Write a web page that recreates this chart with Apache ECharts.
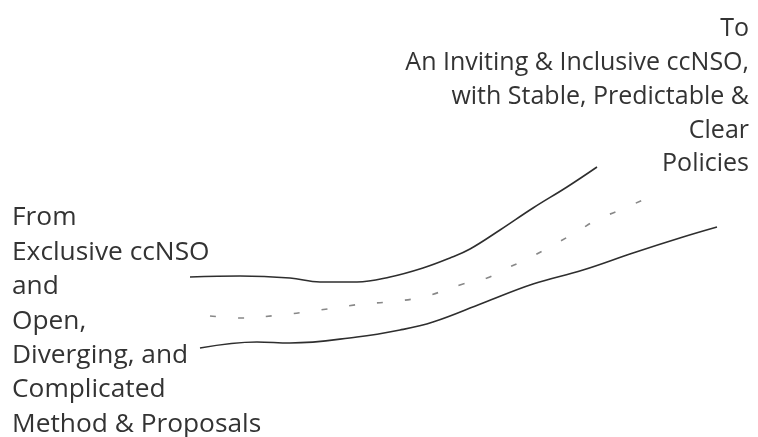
<!DOCTYPE html>
<html>
<head>
<meta charset="utf-8">
<script src="https://cdn.jsdelivr.net/npm/echarts@6/dist/echarts.min.js"></script>
<style>
  html, body { margin: 0; padding: 0; background: #fff; }
  #chart { width: 758px; height: 437px; }
</style>
</head>
<body>
<div id="chart"></div>
<script>
// sketch of a road: two edges and a dashed centre line (page-like units, y grows down)
var upperEdge = [[190, 277], [240, 276], [290, 278], [320, 282], [357, 282], [390, 277],
  [423, 268], [450, 258], [470, 249], [500, 230], [533, 208], [567, 187], [597, 167]];
var lowerEdge = [[200, 348], [257, 342], [290, 343], [357, 337], [400, 330], [433, 322],
  [483, 303], [533, 284], [583, 270], [633, 253], [683, 237], [717, 227]];
var centreLine = [[210, 316], [242, 318], [280, 315], [313, 311], [362, 304], [387, 302],
  [423, 297], [463, 284], [487, 278], [503, 270], [525, 260], [557, 243], [578, 231],
  [598, 219], [618, 211], [647, 198]];

var fromText = ['From', 'Exclusive ccNSO', 'and', 'Open,', 'Diverging, and',
  'Complicated', 'Method & Proposals'];
var toText = ['To', 'An Inviting & Inclusive ccNSO,', 'with Stable, Predictable &',
  'Clear', 'Policies'];

var chart = echarts.init(document.getElementById('chart'));

var font = '"Open Sans", sans-serif';

// one text element per line so each line can be aligned on its own
function textLines(lines, x, y0, step, align, size) {
  return lines.map(function (s, i) {
    return {
      type: 'text',
      x: x,
      y: y0 + i * step,
      style: {
        text: s,
        font: size + 'px ' + font,
        align: align,
        textAlign: align,
        verticalAlign: 'middle',
        textVerticalAlign: 'middle',
        fill: '#333'
      }
    };
  });
}

chart.setOption({
  backgroundColor: '#fff',
  animation: false,
  grid: { left: 0, right: 0, top: 0, bottom: 0 },
  xAxis: { type: 'value', min: 0, max: 758, show: false },
  yAxis: { type: 'value', min: 0, max: 437, inverse: true, show: false },
  series: [{
    type: 'line',
    data: upperEdge,
    smooth: 0.4,
    symbol: 'none',
    lineStyle: { color: '#2e2e2e', width: 1.6 }
  }, {
    type: 'line',
    data: lowerEdge,
    smooth: 0.4,
    symbol: 'none',
    lineStyle: { color: '#2e2e2e', width: 1.6 }
  }, {
    type: 'line',
    data: centreLine,
    smooth: 0.4,
    symbol: 'none',
    lineStyle: { color: '#888', width: 1.6, type: [6, 22] }
  }],
  graphic: textLines(fromText, 12, 218, 34.4, 'left', 26.3)
    .concat(textLines(toText, 749, 29, 33.8, 'right', 25))
});
</script>
</body>
</html>
